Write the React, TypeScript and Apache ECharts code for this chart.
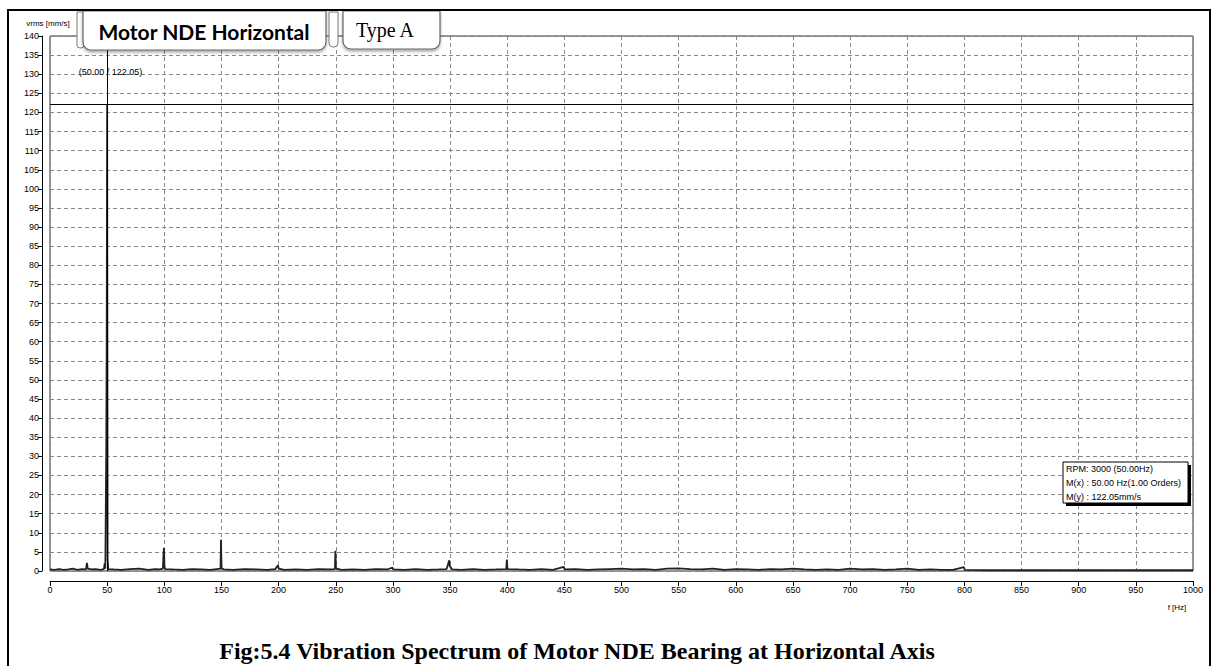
import React, { useEffect, useRef } from "react";
import * as echarts from "echarts";

// Spectrum: frequency (Hz) and amplitude (mm/s)
const freqHz = [
  0, 4, 8, 12, 16, 20, 24, 28, 31.5, 32.3, 33, 36, 40, 44, 47.2, 47.8, 48.4,
  49.2, 49.6, 50, 50.4, 51, 56, 62, 70, 78, 86, 92, 96, 98.8, 99.3, 99.7, 100.2,
  101, 108, 116, 124, 132, 140, 146, 149.2, 149.6, 150.1, 152, 160, 170, 180,
  190, 197, 199.5, 200.1, 205, 215, 225, 235, 245, 249.3, 249.7, 250.2, 255,
  265, 275, 285, 295, 299.6, 300.2, 310, 320, 330, 340, 347, 349.3, 349.8, 351,
  352, 360, 370, 380, 390, 399.2, 399.7, 400.2, 410, 420, 430, 440, 449.5,
  450.2, 460, 470, 480, 490, 500, 510, 520, 530, 540, 550, 560, 570, 580, 590,
  600, 610, 620, 630, 640, 650, 660, 670, 680, 690, 700, 710, 720, 730, 740,
  750, 760, 770, 780, 790, 799.6, 800.2, 820, 850, 880, 910, 940, 970, 1000,
];
const amplitude = [
  0.4, 0.3, 0.5, 0.3, 0.4, 0.6, 0.3, 0.5, 0.4, 2.1, 0.6, 0.4, 0.5, 0.3, 0.5, 2.0, 0.6,
  31, 58.5, 122.05, 3, 0.5, 0.4, 0.3, 0.5, 0.6, 0.3, 0.5, 0.4, 0.6, 4.5, 6.0, 1.0,
  0.5, 0.4, 0.3, 0.5, 0.4, 0.3, 0.5, 0.6, 8.2, 0.8, 0.4, 0.3, 0.5, 0.4,
  0.3, 0.5, 1.5, 0.6, 0.3, 0.4, 0.3, 0.5, 0.4, 0.5, 5.3, 0.7, 0.3,
  0.4, 0.3, 0.5, 0.4, 0.9, 0.4, 0.3, 0.5, 0.3, 0.4, 0.5, 2.8, 1.2, 0.8,
  0.4, 0.3, 0.5, 0.3, 0.4, 0.5, 3.0, 0.5, 0.4, 0.3, 0.5, 0.3, 1.1,
  0.4, 0.5, 0.3, 0.4, 0.5, 0.6, 0.4, 0.5, 0.3, 0.6, 0.7, 0.5, 0.4, 0.6, 0.3,
  0.5, 0.4, 0.3, 0.5, 0.4, 0.6, 0.4, 0.3, 0.4, 0.3, 0.6, 0.4, 0.5, 0.3, 0.4,
  0.6, 0.3, 0.4, 0.3, 0.3, 1.0, 0.3, 0.2, 0.2, 0.2, 0.2, 0.2, 0.2, 0.2,
];

const cursorX = 50;
const cursorY = 122.05;
const cursorLabel = "(50.00 / 122.05)";
const infoLines = ["RPM: 3000 (50.00Hz)", "M(x) : 50.00 Hz(1.00 Orders)", "M(y) : 122.05mm/s"];
const titleMain = "Motor NDE Horizontal";
const titleType = "Type A";
const yAxisName = "vrms [mm/s]";
const xAxisName = "f [Hz]";
const caption = "Fig:5.4 Vibration Spectrum of Motor NDE Bearing at Horizontal Axis";

export default function App() {
  const ref = useRef<HTMLDivElement>(null);
  useEffect(() => {
    const chart = echarts.init(ref.current!, null, { renderer: "svg" });
    const data = freqHz.map((f, i) => [f, amplitude[i]]);
    const labelFont = "Liberation Sans";
    chart.setOption({
      animation: false,
      backgroundColor: "#fff",
      grid: {
        left: 50,
        right: 20,
        top: 36,
        bottom: 95,
        show: true,
        borderColor: "#333",
        borderWidth: 1,
      },
      xAxis: {
        type: "value",
        min: 0,
        max: 1000,
        interval: 50,
        offset: 10,
        axisLine: { show: true, onZero: false, lineStyle: { color: "#000", width: 1 } },
        axisTick: { show: true, length: 5, lineStyle: { color: "#000" } },
        axisLabel: {
          fontSize: 9,
          color: "#000",
          margin: 4,
          fontFamily: labelFont,
          formatter: (v: number) => String(v),
        },
        splitLine: { show: true, lineStyle: { type: [4, 3], color: "#888", width: 1 } },
      },
      yAxis: {
        type: "value",
        min: 0,
        max: 140,
        interval: 5,
        offset: 8,
        axisLine: { show: true, onZero: false, lineStyle: { color: "#000", width: 1 } },
        axisTick: { show: true, length: 4, lineStyle: { color: "#000" } },
        axisLabel: { fontSize: 9, color: "#000", margin: 3, fontFamily: labelFont },
        splitLine: { show: true, lineStyle: { type: [4, 3], color: "#888", width: 1 } },
      },
      series: [
        {
          type: "line",
          data,
          symbol: "none",
          lineStyle: { color: "#222", width: 1.8 },
          z: 3,
          markLine: {
            silent: true,
            symbol: ["none", "none"],
            label: { show: false },
            lineStyle: { color: "#000", width: 1, type: "solid" },
            data: [{ xAxis: cursorX }, { yAxis: cursorY }],
          },
          markPoint: {
            symbol: "rect",
            symbolSize: [1, 1],
            itemStyle: { color: "rgba(0,0,0,0)" },
            label: {
              show: true,
              position: "inside",
              formatter: cursorLabel,
              fontSize: 9,
              color: "#000",
              fontFamily: labelFont,
            },
            data: [{ coord: [cursorX + 3, 130.5] }],
          },
        },
      ],
      graphic: [
        {
          type: "rect",
          z: 20,
          shape: { x: 8, y: 10, width: 1202, height: 700 },
          style: { fill: "none", stroke: "#000", lineWidth: 2 },
        },
        {
          type: "rect",
          z: 15,
          shape: { x: 77, y: 12, width: 7, height: 36, r: [0, 0, 3, 3] },
          style: { fill: "#fff", stroke: "#777", lineWidth: 1 },
        },
        {
          type: "rect",
          z: 15,
          shape: { x: 83, y: 11, width: 243, height: 39, r: [0, 0, 8, 8] },
          style: {
            fill: "#fff",
            stroke: "#666",
            lineWidth: 1.2,
            shadowBlur: 3,
            shadowColor: "rgba(0,0,0,0.35)",
            shadowOffsetY: 2,
          },
        },
        {
          type: "text",
          z: 16,
          x: 204,
          y: 31,
          style: {
            text: titleMain,
            font: "bold 21px Lato",
            fill: "#000",
            align: "center",
            verticalAlign: "middle",
          },
        },
        {
          type: "rect",
          z: 15,
          shape: { x: 329, y: 12, width: 9, height: 35, r: [0, 0, 4, 4] },
          style: { fill: "#fff", stroke: "#777", lineWidth: 1 },
        },
        {
          type: "rect",
          z: 15,
          shape: { x: 343, y: 11, width: 97, height: 38, r: [0, 0, 8, 8] },
          style: {
            fill: "#fff",
            stroke: "#666",
            lineWidth: 1.2,
            shadowBlur: 3,
            shadowColor: "rgba(0,0,0,0.35)",
            shadowOffsetY: 2,
          },
        },
        {
          type: "text",
          z: 16,
          x: 385,
          y: 30,
          style: {
            text: titleType,
            font: "20px 'Liberation Serif'",
            fill: "#000",
            align: "center",
            verticalAlign: "middle",
          },
        },
        {
          type: "text",
          z: 16,
          x: 48,
          y: 23,
          style: {
            text: yAxisName,
            font: "8px 'Liberation Sans'",
            fill: "#000",
            align: "center",
            verticalAlign: "middle",
          },
        },
        {
          type: "text",
          z: 16,
          x: 1177,
          y: 607,
          style: {
            text: xAxisName,
            font: "8px 'Liberation Sans'",
            fill: "#000",
            align: "center",
            verticalAlign: "middle",
          },
        },
        {
          type: "rect",
          z: 15,
          shape: { x: 1066, y: 465, width: 125, height: 41 },
          style: { fill: "#000" },
        },
        {
          type: "rect",
          z: 16,
          shape: { x: 1063, y: 462, width: 125, height: 41 },
          style: { fill: "#fff", stroke: "#000", lineWidth: 1 },
        },
        ...infoLines.map((t, i) => ({
          type: "text",
          z: 17,
          x: 1066,
          y: 469 + i * 14,
          style: {
            text: t,
            font: "9px 'Liberation Sans'",
            fill: "#000",
            align: "left",
            verticalAlign: "middle",
          },
        })),
        {
          type: "text",
          z: 16,
          x: 577,
          y: 651,
          style: {
            text: caption,
            font: "bold 24px 'Liberation Serif'",
            fill: "#000",
            align: "center",
            verticalAlign: "middle",
          },
        },
      ],
    });
    return () => chart.dispose();
  }, []);
  return (
    <div
      ref={ref}
      style={{ position: "fixed", left: 0, top: 0, width: 1213, height: 666, background: "#fff" }}
    />
  );
}
